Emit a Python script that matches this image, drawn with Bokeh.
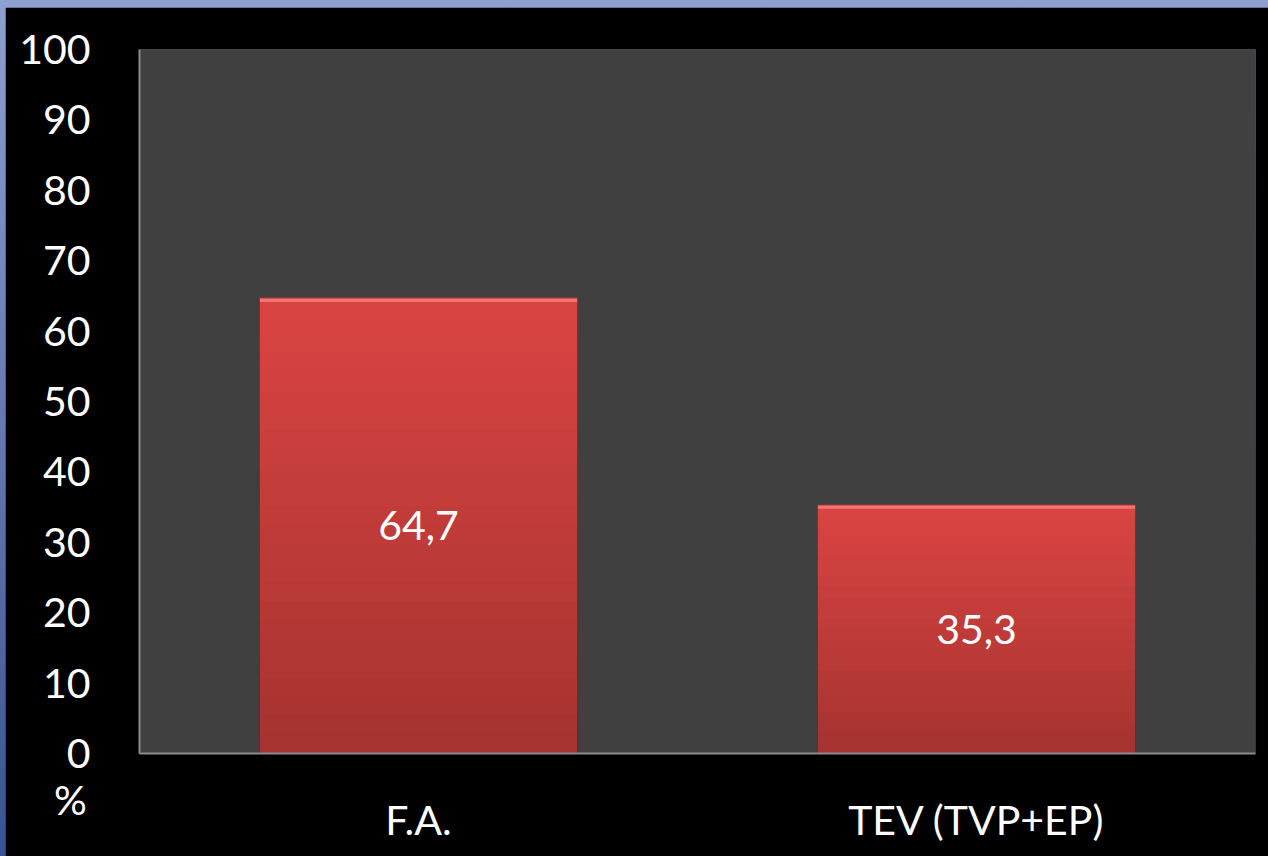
from bokeh.plotting import figure
from bokeh.models import FixedTicker, Column, ColumnDataSource, Div
from bokeh.core.properties import value
from bokeh.embed import file_html
from bokeh.resources import INLINE

categories = ["F.A.", "TEV (TVP+EP)"]
values = [64.7, 35.3]
value_labels = ["64,7", "35,3"]
y_ticks = [0, 10, 20, 30, 40, 50, 60, 70, 80, 90, 100]
y_axis_title = "%"

FONT = "Lato"
BAR_W = 0.57

p = figure(x_range=categories, y_range=(0, 100), width=1263, height=849,
           output_backend="svg", toolbar_location=None,
           min_border_left=134, min_border_right=13, min_border_top=42, min_border_bottom=103)
p.background_fill_color = "#404040"
p.border_fill_color = "black"
p.outline_line_color = None
p.xgrid.visible = False
p.ygrid.visible = False

# gradient bars built from the data values in horizontal slices
n = 24
top_rgb = (0xdb, 0x45, 0x43)
bot_rgb = (0xa5, 0x33, 0x30)
for i in range(n):
    t = (i + 0.5) / n
    r = int(bot_rgb[0] + (top_rgb[0] - bot_rgb[0]) * t)
    g = int(bot_rgb[1] + (top_rgb[1] - bot_rgb[1]) * t)
    b = int(bot_rgb[2] + (top_rgb[2] - bot_rgb[2]) * t)
    col = "#%02x%02x%02x" % (r, g, b)
    src = ColumnDataSource(dict(x=categories,
                                bottom=[v * i / n for v in values],
                                top=[v * (i + 1) / n for v in values]))
    p.vbar(x="x", bottom="bottom", top="top", width=BAR_W, source=src,
           fill_color=col, line_color=col, line_width=1)

# bevel highlight at top of bars
hsrc = ColumnDataSource(dict(x=categories, bottom=[v - 0.55 for v in values], top=values))
p.vbar(x="x", bottom="bottom", top="top", width=BAR_W, source=hsrc,
       fill_color="#f47472", line_color=None)
# dark edge around bars
osrc = ColumnDataSource(dict(x=categories, top=values))
p.vbar(x="x", top="top", width=BAR_W, source=osrc, fill_color=None,
       line_color="#5a1a18", line_width=1, line_alpha=0.6)

lsrc = ColumnDataSource(dict(x=categories, y=[v / 2 for v in values], t=value_labels))
p.text(x="x", y="y", text="t", source=lsrc, text_color="white",
       text_font=value(FONT), text_font_size="41px",
       text_align="center", text_baseline="middle")

p.yaxis.ticker = FixedTicker(ticks=y_ticks)
for ax in (p.xaxis[0], p.yaxis[0]):
    ax.major_label_text_font = FONT
    ax.major_label_text_font_size = "41px"
    ax.major_label_text_color = "white"
    ax.axis_line_color = "#8c8c8c"
    ax.axis_line_width = 2
    ax.major_tick_line_color = None
    ax.minor_tick_line_color = None
p.yaxis.major_label_standoff = 43
p.xaxis.major_label_standoff = 35

pct = Div(text=y_axis_title, styles={"position": "absolute", "left": "49px", "top": "770px",
                                     "color": "white", "font-family": FONT, "font-size": "41px",
                                     "line-height": "50px"})

layout = Column(p, pct, styles={"background": "linear-gradient(to bottom, #8ea0cf 0%, #3a5293 100%)",
                                "padding-top": "7px", "padding-left": "5px", "position": "relative"})

open("out.html", "w").write(file_html(layout, INLINE))
